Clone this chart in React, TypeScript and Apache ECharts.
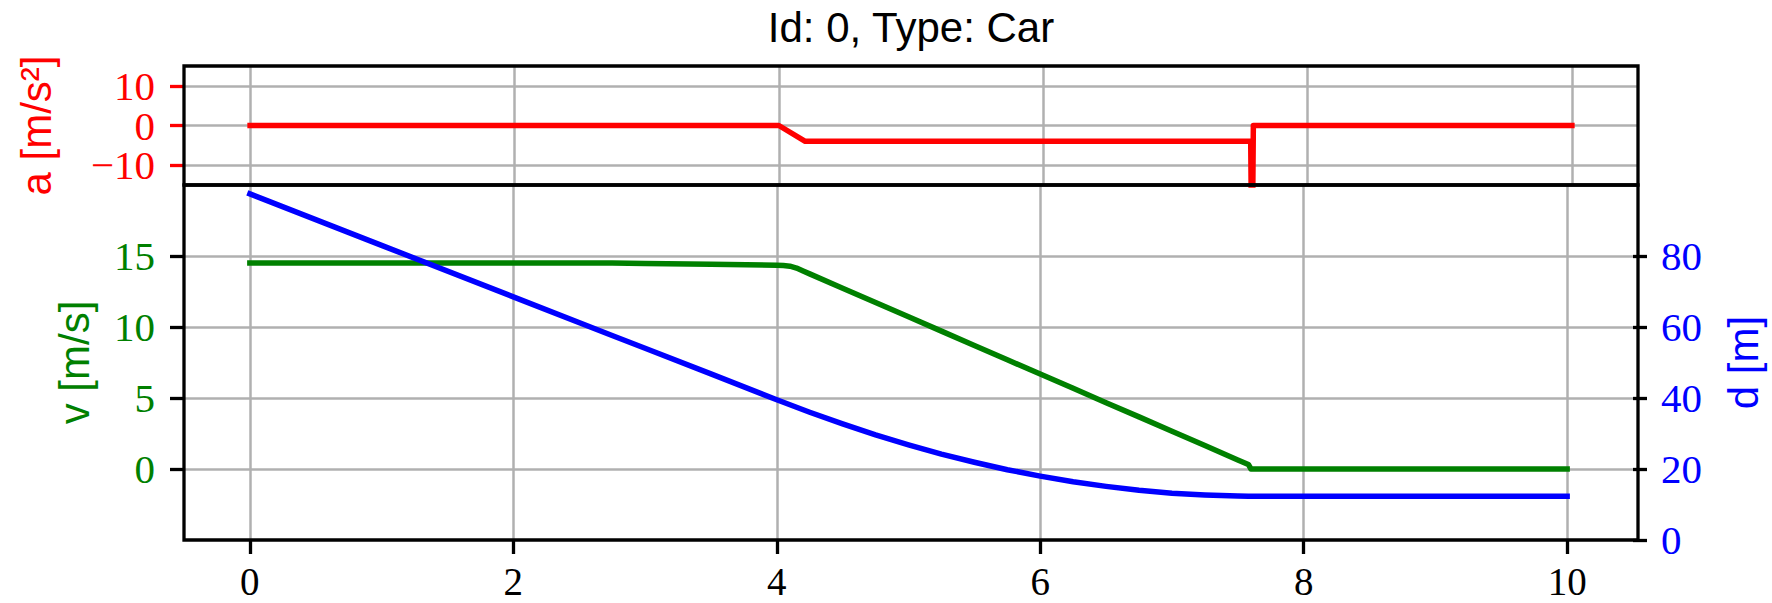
import React, { useEffect, useRef } from "react";
import * as echarts from "echarts";

// ---- data ----
const timeA = [0, 4.0, 4.2, 7.57, 7.58, 7.59, 10];
const accel = [0, 0, -4.0, -4.0, -40, 0, 0];

const timeVD = [0, 1, 2, 2.75, 3, 3.5, 4, 4.05, 4.1, 4.15, 4.2, 4.25, 4.5, 4.75, 5, 5.25, 5.5, 5.75, 6, 6.25, 6.5, 6.75, 7, 7.25, 7.5, 7.58, 7.6, 8, 9, 10];
const velocity = [14.5, 14.5, 14.5, 14.5, 14.48, 14.42, 14.35, 14.33, 14.28, 14.15, 13.94, 13.74, 12.73, 11.72, 10.72, 9.71, 8.7, 7.69, 6.69, 5.68, 4.67, 3.67, 2.66, 1.65, 0.64, 0.32, 0, 0, 0, 0];
const distance = [97.5, 83.0, 68.5, 57.6, 54.0, 46.8, 39.5, 38.8, 38.1, 37.4, 36.7, 36.0, 32.7, 29.6, 26.8, 24.2, 21.9, 19.8, 18.0, 16.4, 15.1, 14.0, 13.2, 12.7, 12.4, 12.3, 12.3, 12.3, 12.3, 12.3];

const xTicks = [0, 2, 4, 6, 8, 10];
const aTicks = [-10, 0, 10];
const aOuterLabels = [-10, 10];
const aInnerLabels = [0];
const vTicks = [0, 5, 10, 15];
const dTicks = [0, 20, 40, 60, 80];

const TITLE = "Id: 0, Type: Car";

// ---- layout ----
const W = 1772;
const H = 603;
const L = 184;
const R = 1638;
const TOP_A = 66;
const BOT_A = 185;
const BOT_V = 540;

const GRID_COLOR = "#b0b0b0";
const SERIF = "Liberation Serif";
const SANS = "Liberation Sans";
const LINE_W = 5.5;

const fmt = (v: number) => (v < 0 ? "\u2212" + Math.abs(v) : String(v));

const splitLine = { show: true, lineStyle: { color: GRID_COLOR, width: 2.5 } };

export default function App() {
  const ref = useRef<HTMLDivElement>(null);

  useEffect(() => {
    document.body.style.margin = "0";
    if (!ref.current) return;
    const chart = echarts.init(ref.current, undefined, { renderer: "svg" });

    const tickStyle = (color: string, vals: number[]) => ({
      show: true,
      length: 14,
      customValues: vals,
      lineStyle: { color, width: 3.3 },
    });
    const labelStyle = (color: string, vals: number[], margin: number, size = 41) => ({
      show: true,
      customValues: vals,
      margin,
      color,
      fontFamily: SERIF,
      fontSize: size,
      lineHeight: 30,
      hideOverlap: false,
      showMinLabel: true,
      showMaxLabel: true,
      formatter: fmt,
    });
    const nameStyle = (color: string) => ({ color, fontFamily: SANS, fontSize: 42 });

    const option: any = {
      animation: false,
      backgroundColor: "#ffffff",
      title: {
        text: TITLE,
        left: 906,
        top: 1,
        textAlign: "center",
        textStyle: { fontFamily: SANS, fontSize: 42, fontWeight: "normal", color: "#000" },
      },
      grid: [
        { left: L, top: TOP_A, width: R - L, height: BOT_A - TOP_A },
        { left: L, top: BOT_A, width: R - L, height: BOT_V - BOT_A },
      ],
      xAxis: [
        {
          gridIndex: 0,
          type: "value",
          min: -0.5,
          max: 10.5,
          splitNumber: 5,
          axisLine: { show: false, onZero: false },
          axisTick: { show: false, customValues: xTicks },
          axisLabel: { show: false, customValues: xTicks },
          splitLine,
        },
        {
          gridIndex: 1,
          type: "value",
          min: -0.5,
          max: 10.5,
          splitNumber: 5,
          axisLine: { show: false, onZero: false },
          axisTick: tickStyle("#000", xTicks),
          axisLabel: labelStyle("#000", xTicks, 26, 39),
          splitLine,
        },
      ],
      yAxis: [
        {
          gridIndex: 0,
          type: "value",
          position: "left",
          min: -15,
          max: 15,
          splitNumber: 3,
          name: "a [m/s\u00b2]",
          nameLocation: "middle",
          nameGap: 127,
          nameMoveOverlap: false,
          nameTextStyle: nameStyle("#ff0000"),
          axisLine: { show: false, onZero: false },
          axisTick: tickStyle("#ff0000", aTicks),
          axisLabel: labelStyle("#ff0000", aOuterLabels, 29),
          splitLine,
        },
        {
          gridIndex: 1,
          type: "value",
          position: "left",
          min: -5,
          max: 20,
          splitNumber: 5,
          name: "v [m/s]",
          nameLocation: "middle",
          nameGap: 89,
          nameMoveOverlap: false,
          nameTextStyle: nameStyle("#008000"),
          axisLine: { show: false, onZero: false },
          axisTick: tickStyle("#000", vTicks),
          axisLabel: labelStyle("#008000", vTicks, 29),
          splitLine,
        },
        {
          gridIndex: 1,
          type: "value",
          position: "right",
          min: 0,
          max: 100,
          splitNumber: 5,
          name: "d [m]",
          nameLocation: "middle",
          nameGap: 89,
          nameMoveOverlap: false,
          nameTextStyle: nameStyle("#0000ff"),
          axisLine: { show: false, onZero: false },
          axisTick: tickStyle("#000", dTicks),
          axisLabel: labelStyle("#0000ff", dTicks, 28),
          splitLine: { show: false },
        },
        {
          // second left axis of the a-panel carrying the middle tick label
          gridIndex: 0,
          type: "value",
          position: "left",
          min: -15,
          max: 15,
          splitNumber: 3,
          axisLine: { show: false, onZero: false },
          axisTick: { show: false, customValues: aInnerLabels },
          axisLabel: labelStyle("#ff0000", aInnerLabels, 29),
          splitLine: { show: false },
        },
      ],
      series: [
        {
          name: "a",
          type: "line",
          xAxisIndex: 0,
          yAxisIndex: 0,
          showSymbol: false,
          clip: true,
          data: timeA.map((t, i) => [t, accel[i]]),
          lineStyle: { color: "#ff0000", width: LINE_W, cap: "square", join: "round" },
        },
        {
          name: "v",
          type: "line",
          xAxisIndex: 1,
          yAxisIndex: 1,
          showSymbol: false,
          clip: true,
          data: timeVD.map((t, i) => [t, velocity[i]]),
          lineStyle: { color: "#008000", width: LINE_W, cap: "square", join: "round" },
        },
        {
          name: "d",
          type: "line",
          xAxisIndex: 1,
          yAxisIndex: 2,
          showSymbol: false,
          clip: true,
          data: timeVD.map((t, i) => [t, distance[i]]),
          lineStyle: { color: "#0000ff", width: LINE_W, cap: "square", join: "round" },
        },
      ],
      graphic: [
        {
          type: "rect",
          z: 100,
          silent: true,
          shape: { x: L, y: TOP_A, width: R - L, height: BOT_A - TOP_A },
          style: { fill: "none", stroke: "#000", lineWidth: 3.3 },
        },
        {
          type: "rect",
          z: 100,
          silent: true,
          shape: { x: L, y: BOT_A, width: R - L, height: BOT_V - BOT_A },
          style: { fill: "none", stroke: "#000", lineWidth: 3.3 },
        },
      ],
    };

    chart.setOption(option);
    return () => chart.dispose();
  }, []);

  return <div ref={ref} style={{ width: W, height: H }} />;
}
